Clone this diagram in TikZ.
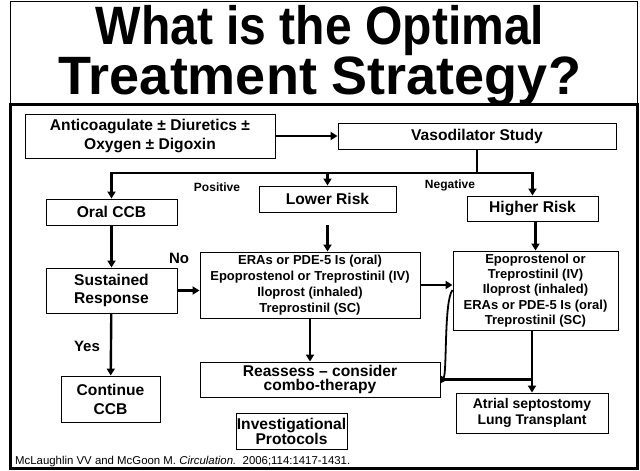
\documentclass[tikz,border=0pt]{standalone}
\usepackage{fontspec}
\setmainfont{Liberation Sans}
\usetikzlibrary{positioning,arrows.meta}

\tikzset{
  box/.style={draw, line width=0.9pt, align=center, inner sep=0pt,
    font=\bfseries\fontsize{15.6}{19}\selectfont},
  drugs/.style={box, font=\bfseries\fontsize{13}{15.6}\selectfont},
  lbl/.style={inner sep=0pt, font=\bfseries\fontsize{12}{14}\selectfont},
  yesno/.style={inner sep=0pt, font=\bfseries\fontsize{15}{18}\selectfont},
  flow/.style={line width=2.4pt},
  arr/.style={flow, -{Triangle[length=7pt,width=8pt]}}
}

\begin{document}
\begin{tikzpicture}[x=1pt, y=-1pt]
  \useasboundingbox (0,0) rectangle (640,471);

  % frames
  \draw[line width=1pt] (10,1.5) rectangle (637,104);
  \draw[line width=3pt] (10,104) rectangle (637,468);

  % title
  \node[anchor=north, align=center, inner sep=0pt, font=\bfseries\fontsize{54}{44}\selectfont] (title) at (320,5.5)
    {\scalebox{0.89}[1]{What is the Optimal}\\Treatment Strategy?};

  % boxes
  \node[box, minimum width=250pt, minimum height=44pt] (anti) at (150,136) {Anticoagulate ± Diuretics ±\\Oxygen ± Digoxin};
  \node[box, minimum width=278pt, minimum height=26pt] (vaso) at (477,136) {Vasodilator Study};
  \node[box, minimum width=131pt, minimum height=26pt] (oral) at (111.5,212) {Oral CCB};
  \node[box, minimum width=137pt, minimum height=26pt] (lower) at (327.5,199) {Lower Risk};
  \node[box, minimum width=131pt, minimum height=25pt] (higher) at (532.5,208.5) {Higher Risk};
  \node[box, minimum width=131pt, minimum height=45pt, font=\bfseries\fontsize{15.6}{18.7}\selectfont] (sust) at (111.5,290.5) {Sustained\\Response};
  \node[drugs, minimum width=220pt, minimum height=66pt, font=\bfseries\fontsize{13}{15.9}\selectfont] (eras) at (310,285) {ERAs or PDE-5 Is (oral)\\Epoprostenol or Treprostinil (IV)\\Iloprost (inhaled)\\Treprostinil (SC)};
  \node[drugs, minimum width=165pt, minimum height=79pt, font=\bfseries\fontsize{13}{15.25}\selectfont] (hbox) at (535.5,290.5) {Epoprostenol or\\Treprostinil (IV)\\Iloprost (inhaled)\\ERAs or PDE-5 Is (oral)\\Treprostinil (SC)};
  \node[box, minimum width=240pt, minimum height=35pt, font=\bfseries\fontsize{15.6}{14.5}\selectfont] (reas) at (320,379.5) {Reassess -- consider\\combo-therapy};
  \node[box, minimum width=99pt, minimum height=46pt] (cont) at (110.5,399) {Continue\\CCB};
  \node[box, minimum width=111pt, minimum height=36pt, font=\bfseries\fontsize{15.6}{15}\selectfont] (inv) at (291.5,431) {Investigational\\Protocols};
  \node[box, minimum width=152pt, minimum height=40pt, font=\bfseries\fontsize{14}{16.7}\selectfont] (atr) at (532,413) {Atrial septostomy\\Lung Transplant};

  % labels
  \node[lbl] (pos) at (217,187) {Positive};
  \node[lbl] (neg) at (450,185) {Negative};
  \node[yesno] (no) at (179,258) {No};
  \node[yesno] (yes) at (87,346) {Yes};

  % connectors
  \coordinate (split) at (477,173);
  \draw[arr] (anti) -- (vaso);
  \draw[flow] (vaso) -- (split);
  \draw[arr] (split) -| (oral);
  \draw[arr] (split) -| (higher);
  \draw[arr] (lower |- split) -- (lower);
  \draw[arr, shorten <=13pt] (lower.south) -- (lower.south |- eras.north);
  \draw[arr] (oral) -- (sust);
  \draw[arr] (sust) -- (sust -| eras.west);
  \draw[arr] (sust) -- (cont);
  \draw[arr] (eras.east) -- (eras.east -| hbox.west);
  \draw[arr] (hbox.north |- higher.south) -- (hbox.north);
  \draw[arr] (eras.south) -- (eras.south |- reas.north);
  \draw[flow, -{Triangle[length=7pt,width=8pt]}, line width=1.8pt] ([yshift=0.5pt]hbox.west) .. controls (444,300) and (447,372) .. ([yshift=-4pt]reas.east);
  \draw[flow] (reas.east) -- (reas.east -| atr.north);
  \draw[arr] (atr.north |- hbox.south) -- (atr.north);

  % source
  \node[anchor=base west, inner sep=0pt, font=\fontsize{11.4}{13}\selectfont] (cite) at (15,464) {McLaughlin VV and McGoon M. \textit{Circulation.}\ \ 2006;114:1417-1431.};
\end{tikzpicture}
\end{document}
